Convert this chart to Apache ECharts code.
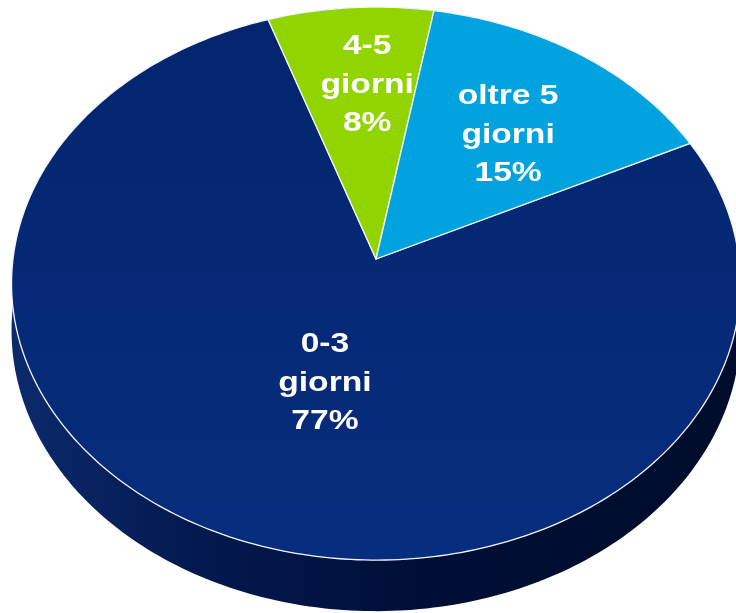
<!DOCTYPE html>
<html>
<head>
<meta charset="utf-8">
<script src="https://cdn.jsdelivr.net/npm/echarts@6/dist/echarts.min.js"></script>
<style>
  html, body { margin: 0; padding: 0; background: #ffffff; }
  #chart { width: 736px; height: 613px; }
</style>
</head>
<body>
<div id="chart"></div>
<script>
// ---- data ----
var categories = ['0-3 giorni', '4-5 giorni', 'oltre 5 giorni'];
var values = [77, 8, 15];

// ---- layout / style (not data) ----
var colors = ['#052b79', '#92d400', '#00a3e0'];
var VIEW = { cx: 376, cy: 259, sx: 363, sy: 274.3, persp: 0.089, depth: 46.5, startAngle: 64 };
// label anchor per slice: radius fraction and angle nudge (degrees)
var labelLayout = [ { r: 0.455, da: -5.3 }, { r: 0.672, da: 2.2 }, { r: 0.605, da: 1.8 } ];

function proj(r, deg) {
  var a = deg * Math.PI / 180;
  var x = r * Math.sin(a), yd = r * Math.cos(a);
  var k = 1 + VIEW.persp * yd;
  return [VIEW.cx + VIEW.sx * x / k, VIEW.cy - VIEW.sy * yd / k];
}
function projDown(deg) {
  var a = deg * Math.PI / 180;
  var yd = Math.cos(a);
  var p = proj(1, deg);
  return [p[0], p[1] + VIEW.depth / (1 + VIEW.persp * yd)];
}
function total() { return values.reduce(function (s, v) { return s + v; }, 0); }
function sliceAngles(idx) {
  var t = total(), before = 0;
  for (var i = 0; i < idx; i++) before += values[i];
  var a0 = VIEW.startAngle + before / t * 360;
  var a1 = a0 + values[idx] / t * 360;
  return [a0, a1];
}
function arcPts(a0, a1, fn) {
  var pts = [], n = Math.max(2, Math.ceil(a1 - a0));
  for (var i = 0; i <= n; i++) pts.push(fn(a0 + (a1 - a0) * i / n));
  return pts;
}

var chart = echarts.init(document.getElementById('chart'), null, { renderer: 'canvas' });

var sideGradient = new echarts.graphic.LinearGradient(0, 0, 1, 0, [
  { offset: 0, color: '#0c2a6c' },
  { offset: 0.25, color: '#031950' },
  { offset: 0.55, color: '#000f38' },
  { offset: 1, color: '#000c2a' }
]);

var seriesData = values.map(function (v, i) { return { name: categories[i], value: v }; });

chart.setOption({
  animation: false,
  backgroundColor: '#ffffff',
  series: [
    {
      type: 'custom',
      coordinateSystem: 'none',
      z: 1,
      data: seriesData,
      renderItem: function (params, api) {
        var i = params.dataIndex;
        var ang = sliceAngles(i);
        var top = arcPts(ang[0], ang[1], function (d) { return proj(1, d); });
        var bot = arcPts(ang[0], ang[1], projDown).reverse();
        return {
          type: 'polygon',
          shape: { points: top.concat(bot) },
          style: { fill: sideGradient, stroke: null }
        };
      }
    },
    {
      type: 'custom',
      coordinateSystem: 'none',
      z: 2,
      data: seriesData,
      renderItem: function (params, api) {
        var i = params.dataIndex;
        var v = api.value(0);
        var ang = sliceAngles(i);
        var pts = [proj(0, 0)].concat(arcPts(ang[0], ang[1], function (d) { return proj(1, d); }));
        var fill = colors[i];
        if (i === 0) {
          fill = new echarts.graphic.LinearGradient(0, 0, 0, 1, [
            { offset: 0, color: '#03256e' },
            { offset: 1, color: '#072d7e' }
          ]);
        }
        var lay = labelLayout[i];
        var mid = (ang[0] + ang[1]) / 2 + lay.da;
        var lp = proj(lay.r, mid);
        var pct = Math.round(v / total() * 100) + '%';
        var txt = categories[i].replace(' giorni', '\ngiorni') + '\n' + pct;
        return {
          type: 'group',
          children: [
            {
              type: 'polygon',
              shape: { points: pts },
              style: { fill: fill, stroke: '#f2f5fa', lineWidth: 1.3, lineJoin: 'round' }
            },
            {
              type: 'text',
              x: lp[0],
              y: lp[1],
              scaleX: 1.2,
              scaleY: 1,
              z2: 10,
              style: {
                text: txt,
                fill: '#ffffff',
                font: 'bold 28px "Liberation Sans", Arial, sans-serif',
                align: 'center',
                verticalAlign: 'middle',
                lineHeight: 38.5
              }
            }
          ]
        };
      }
    }
  ]
});
</script>
</body>
</html>
